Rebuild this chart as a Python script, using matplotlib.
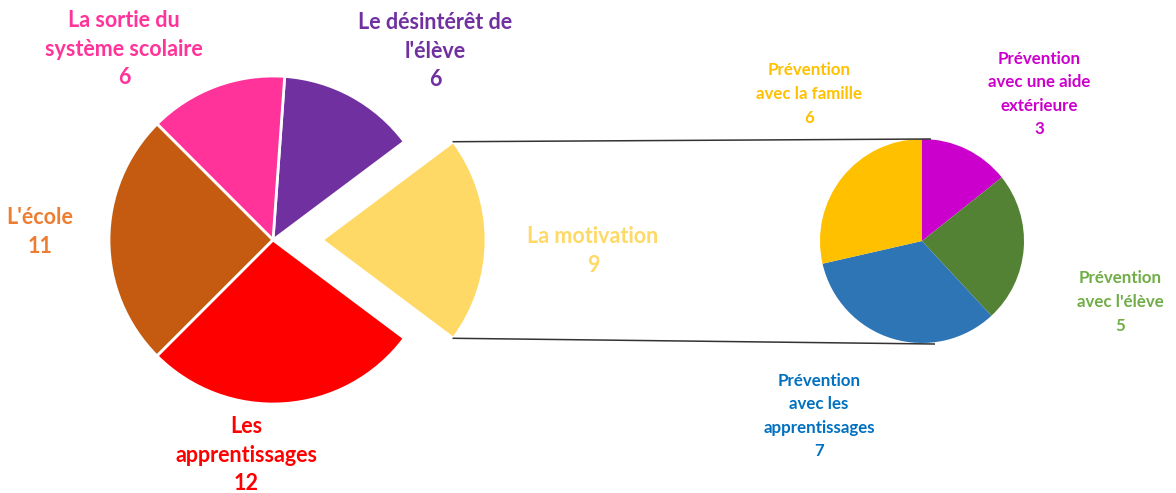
import numpy as np
import matplotlib.pyplot as plt

plt.rcParams['font.family'] = ['Lato', 'DejaVu Sans']

# ---- données ----
main_labels = ['La motivation', "Le désintérêt de\nl'élève", 'La sortie du\nsystème scolaire',
               "L'école", 'Les\napprentissages']
main_values = [9, 6, 6, 11, 12]
main_colors = ['#FFD966', '#7030A0', '#FF3399', '#C55A11', '#FF0000']
main_text_colors = ['#FFD966', '#7030A0', '#FF3399', '#ED7D31', '#FF0000']

sub_labels = ['Prévention\navec une aide\nextérieure', "Prévention\navec l'élève",
              'Prévention\navec les\napprentissages', 'Prévention\navec la famille']
sub_values = [3, 5, 7, 6]
sub_colors = ['#CC00CC', '#548235', '#2E75B6', '#FFC000']
sub_text_colors = ['#CC00CC', '#70AD47', '#0070C0', '#FFC000']

# ---- mise en page (pixels, y vers le haut) ----
W, H = 1176, 493
fig = plt.figure(figsize=(W / 100, H / 100), dpi=100)
ax = fig.add_axes([0, 0, 1, 1])

c1, r1 = (273, H - 240), 164
c2, r2 = (922, H - 241), 102

start = -180 * main_values[0] / sum(main_values)
# explode est en unités de données (pixels ici)
w1, _ = ax.pie(main_values, colors=main_colors, center=c1, radius=r1,
               startangle=start, explode=[49, 0, 0, 0, 0],
               wedgeprops=dict(edgecolor='white', linewidth=2))
w2, _ = ax.pie(sub_values, colors=sub_colors, center=c2, radius=r2,
               startangle=90, counterclock=False,
               wedgeprops=dict(edgecolor='none'))

# lignes de liaison
m = w1[0]
mx, my = m.center
p_top = (mx + m.r * np.cos(np.radians(m.theta2)), my + m.r * np.sin(np.radians(m.theta2)))
p_bot = (mx + m.r * np.cos(np.radians(m.theta1)), my + m.r * np.sin(np.radians(m.theta1)))
ax.plot([p_top[0], c2[0] + 0.08 * r2], [p_top[1], c2[1] + r2], color='#333333', lw=1.1)
ax.plot([p_bot[0], c2[0] + 0.12 * r2], [p_bot[1], c2[1] - r2 - 1], color='#333333', lw=1.1)

# étiquettes
main_pos = [(593, 251), (435, 51), (124, 49), (40, 232), (246, 455)]
for lab, v, col, (x, y) in zip(main_labels, main_values, main_text_colors, main_pos):
    ax.text(x, H - y, f'{lab}\n{v}', color=col, fontsize=15.5, fontweight='bold',
            ha='center', va='center', linespacing=1.45)

sub_pos = [(1039, 94), (1120, 302), (819, 416), (809, 94)]
for lab, v, col, (x, y) in zip(sub_labels, sub_values, sub_text_colors, sub_pos):
    ax.text(x, H - y, f'{lab}\n{v}', color=col, fontsize=12.2, fontweight='bold',
            ha='center', va='center', linespacing=1.58)

ax.set_xlim(0, W)
ax.set_ylim(0, H)
ax.set_aspect('equal')
ax.axis('off')

fig.savefig('out.png', dpi=100, facecolor='white')
